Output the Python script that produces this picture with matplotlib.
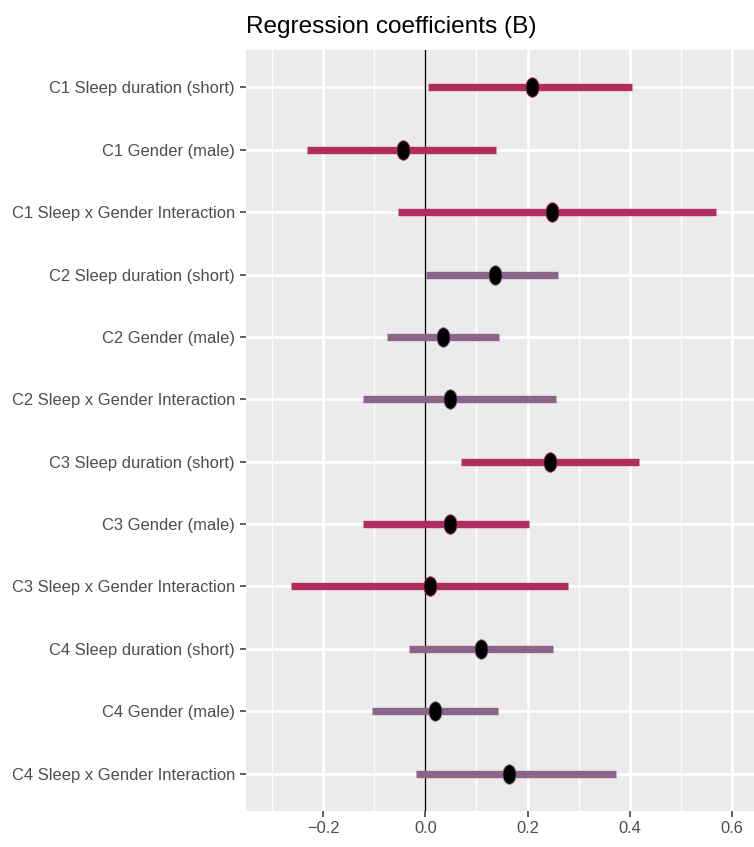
import matplotlib.pyplot as plt
import numpy as np
from matplotlib.markers import MarkerStyle
from matplotlib.transforms import Affine2D

# Etiquetas de los términos (de arriba hacia abajo)
terms = ['C1 Sleep duration (short)', 'C1 Gender (male)', 'C1 Sleep x Gender Interaction',
         'C2 Sleep duration (short)', 'C2 Gender (male)', 'C2 Sleep x Gender Interaction',
         'C3 Sleep duration (short)', 'C3 Gender (male)', 'C3 Sleep x Gender Interaction',
         'C4 Sleep duration (short)', 'C4 Gender (male)', 'C4 Sleep x Gender Interaction']

# Coeficientes e intervalos
estimate = [0.208, -0.043, 0.247, 0.137, 0.035, 0.048, 0.244, 0.048, 0.010, 0.108, 0.019, 0.164]
lower = [0.005, -0.232, -0.053, 0.001, -0.075, -0.123, 0.069, -0.122, -0.263, -0.032, -0.105, -0.019]
upper = [0.405, 0.138, 0.569, 0.260, 0.144, 0.255, 0.418, 0.203, 0.280, 0.250, 0.143, 0.373]

# Grupo de cada término (C1..C4)
group = ['C1'] * 3 + ['C2'] * 3 + ['C3'] * 3 + ['C4'] * 3
colors = {'C1': '#B02E5E', 'C2': '#8A6589', 'C3': '#B02E5E', 'C4': '#8A6589'}

plt.rcParams['font.family'] = ['Liberation Sans', 'DejaVu Sans']

fig = plt.figure(figsize=(7.54, 8.47), dpi=100)
ax = fig.add_axes([246 / 754, 1 - 811 / 847, 1 - 246 / 754, 761 / 847])
ax.set_facecolor('#EBEBEB')

n = len(terms)
ypos = np.arange(n, 0, -1)

# Rejilla estilo ggplot
ax.set_xticks(np.arange(-0.2, 0.61, 0.2))
ax.set_xticks(np.arange(-0.3, 0.61, 0.2), minor=True)
ax.grid(True, which='major', color='white', linewidth=2.0)
ax.grid(True, which='minor', axis='x', color='white', linewidth=1.0)
ax.set_axisbelow(True)

# Línea de referencia en cero
ax.axvline(0, color='black', linewidth=1.0, zorder=2)

# Intervalos y puntos
ellipse = MarkerStyle('o', transform=Affine2D().scale(0.68, 1.0))
for y, est, lo, hi, g in zip(ypos, estimate, lower, upper, group):
    ax.hlines(y, lo, hi, color=colors[g], linewidth=5.3, zorder=3)
    ax.plot(est, y, marker=ellipse, markersize=14, color='black',
            markeredgecolor=colors[g], markeredgewidth=0.6, zorder=4)

ax.set_xlim(-0.351, 0.643)
ax.set_ylim(0.4, n + 0.6)
ax.set_yticks(ypos)
ax.set_yticklabels(terms)
ax.set_xticklabels(['\u22120.2', '0.0', '0.2', '0.4', '0.6'])

for side in ax.spines.values():
    side.set_visible(False)
ax.tick_params(axis='both', which='major', color='#333333', length=4, width=1.1,
               labelcolor='#4D4D4D', labelsize=11.9, pad=3)
ax.tick_params(axis='y', which='major', pad=4)
ax.tick_params(axis='x', which='minor', length=0)

ax.set_title('Regression coefficients (B)', loc='left', fontsize=17.6, color='black', pad=12)

plt.savefig('out.png', dpi=100)
